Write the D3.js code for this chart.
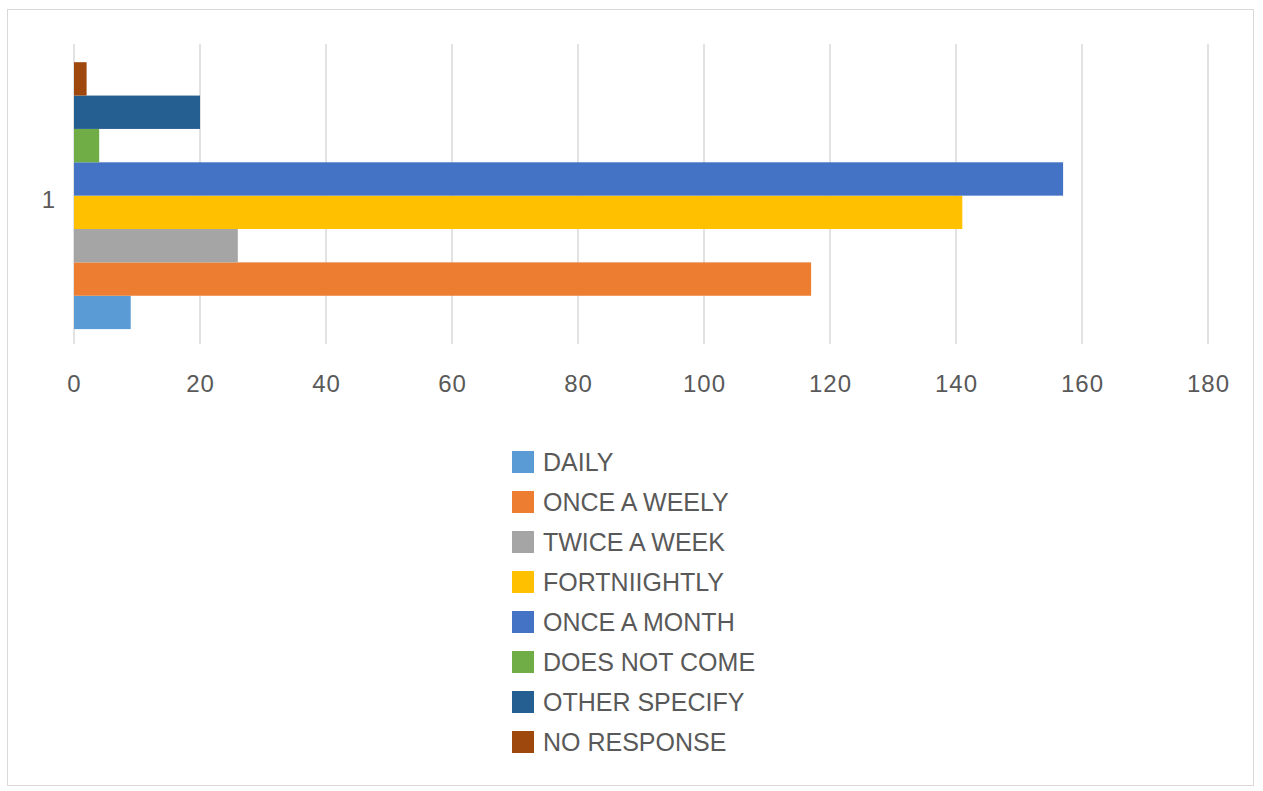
<!DOCTYPE html>
<html><head><meta charset="utf-8">
<script src="https://cdn.jsdelivr.net/npm/d3@7"></script>
<style>body{margin:0;background:#fff}svg{display:block}</style>
</head><body>
<svg id="c" width="1263" height="791"></svg>
<script>
const categories = ["1"];
const seriesNames = ["DAILY","ONCE A WEELY","TWICE A WEEK","FORTNIIGHTLY","ONCE A MONTH","DOES NOT COME","OTHER SPECIFY","NO RESPONSE"];
const seriesValues = [9,117,26,141,157,4,20,2];
const seriesColors = ["#5B9BD5","#ED7D31","#A5A5A5","#FFC000","#4472C4","#70AD47","#255E91","#9E480E"];
const xTicks = [0,20,40,60,80,100,120,140,160,180];

(function(){
const svg = d3.select("#c");
svg.append("rect").attr("x",7.5).attr("y",9.5).attr("width",1246).attr("height",776)
  .attr("fill","#fff").attr("stroke","#d9d9d9").attr("stroke-width",1);

const pL=74,pR=1208,pT=44,pB=344;
const x = d3.scaleLinear().domain([0,180]).range([pL,pR]);
const y0 = d3.scaleBand().domain(categories).range([pT,pB]).paddingInner(0).paddingOuter(0.062).align(0.55);
const y1 = d3.scaleBand().domain(d3.range(seriesNames.length).reverse()).range([0,y0.bandwidth()]);

const font = "'Liberation Sans', Arial, sans-serif";

svg.append("g").selectAll("line").data(xTicks).join("line")
  .attr("x1",d=>x(d)).attr("x2",d=>x(d)).attr("y1",pT).attr("y2",pB)
  .attr("stroke","#d9d9d9").attr("stroke-width",1.5);

const g = svg.append("g");
categories.forEach(cat=>{
  g.selectAll(null).data(seriesValues).join("rect")
    .attr("x",x(0)).attr("y",(d,i)=>y0(cat)+y1(i))
    .attr("width",d=>x(d)-x(0)).attr("height",y1.bandwidth())
    .attr("fill",(d,i)=>seriesColors[i]);
});

const xAxis = d3.axisBottom(x).tickValues(xTicks).tickSize(0).tickPadding(0);
const ax = svg.append("g").attr("transform",`translate(0,${pB})`).call(xAxis);
ax.select(".domain").remove();
ax.selectAll("text").attr("y",40).attr("dy","0.35em").attr("font-family",font).attr("font-size",24)
  .attr("fill","#595959").style("letter-spacing","1px");

const yAxis = d3.axisLeft(y0).tickSize(0).tickPadding(0);
const ay = svg.append("g").attr("transform",`translate(55,4)`).call(yAxis);
ay.select(".domain").remove();
ay.selectAll("text").attr("dy","0.35em").attr("font-family",font).attr("font-size",24).attr("fill","#595959");

const ly = d3.scalePoint().domain(seriesNames).range([462,742]);
const items = svg.append("g").selectAll("g").data(seriesNames).join("g")
  .attr("transform",d=>`translate(512,${ly(d)})`);
items.append("rect").attr("x",0).attr("y",-11).attr("width",22).attr("height",22)
  .attr("fill",(d,i)=>seriesColors[i]);
items.append("text").attr("x",31).attr("y",0).attr("dy","0.36em").text(d=>d)
  .attr("font-family",font).attr("font-size",25).attr("fill","#595959");
})();
</script>
</body></html>
